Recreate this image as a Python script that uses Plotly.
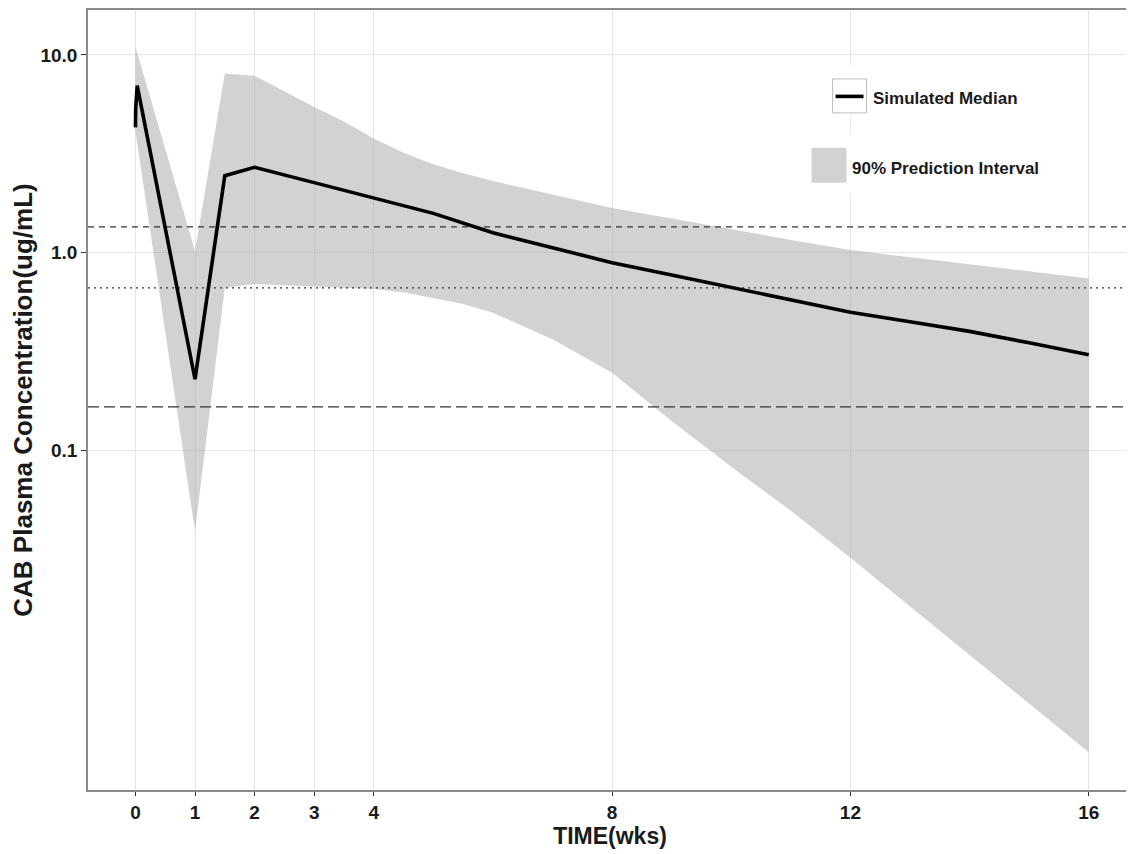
import plotly.graph_objects as go

# ---------------- data ----------------
median_time = [0, 0.005, 0.03, 1, 1.5, 2, 3, 4, 5, 6, 7, 8, 9, 10, 11, 12, 13, 14, 15, 16]
median_conc = [4.3, 5.4, 7.0, 0.229, 2.45, 2.70, 2.26, 1.88, 1.58, 1.26, 1.06, 0.89,
               0.77, 0.665, 0.58, 0.50, 0.447, 0.40, 0.35, 0.305]

band_time = [0, 1, 1.5, 2, 3, 3.5, 4, 4.5, 5, 5.5, 6, 7, 8, 9, 10, 11, 12, 13, 14, 15, 16]
band_upper = [11.0, 1.02, 8.05, 7.85, 5.45, 4.6, 3.78, 3.2, 2.8, 2.52, 2.30, 1.97, 1.68,
              1.49, 1.31, 1.16, 1.03, 0.947, 0.87, 0.804, 0.74]
band_lower = [4.1, 0.039, 0.665, 0.695, 0.675, 0.665, 0.655, 0.63, 0.59, 0.55, 0.497, 0.365,
              0.247, 0.141, 0.0827, 0.0496, 0.0287, 0.0163, 0.00925, 0.00526, 0.00298]

ref_values = [1.35, 0.664, 0.166]
ref_dashes = ["6px,5px", "2px,4px", "11px,5px"]

x_ticks = [0, 1, 2, 3, 4, 8, 12, 16]
y_ticks = [0.1, 1.0, 10.0]
y_ticklabels = ["0.1", "1.0", "10.0"]

x_title = "TIME(wks)"
y_title = "CAB Plasma Concentration(ug/mL)"
legend_labels = ["Simulated Median", "90% Prediction Interval"]

# ---------------- layout constants ----------------
# the page body has an 8px margin, so the figure is sized to end at the window edge
OFF = 8
W, H = 1134 - OFF, 854 - OFF
P_LEFT, P_TOP, P_BOTTOM, P_RIGHT = 88, 9, 790, 1134   # plot area in window pixels
ML, MT = P_LEFT - OFF, P_TOP - OFF
MB = H - (P_BOTTOM - OFF)
MR = W - (P_RIGHT - OFF)
X_RANGE = [-0.796, 16.726]
Y_RANGE = [-2.717, 1.227]
FONT = "Liberation Sans, Arial, Helvetica, sans-serif"
BAND = "rgba(165,165,165,0.5)"
TXT = "#1a1a1a"

pw = P_RIGHT - P_LEFT
ph = P_BOTTOM - P_TOP


def px2paper(px, py):
    return (px - P_LEFT) / pw, (P_BOTTOM - py) / ph


fig = go.Figure()

# prediction interval band
fig.add_trace(go.Scatter(
    x=band_time + band_time[::-1],
    y=band_upper + band_lower[::-1],
    fill="toself", fillcolor=BAND, mode="lines",
    line=dict(width=0, color=BAND), hoverinfo="skip", showlegend=False,
))

# reference lines
for v, d in zip(ref_values, ref_dashes):
    fig.add_trace(go.Scatter(
        x=X_RANGE, y=[v, v], mode="lines",
        line=dict(color="#333333", width=1.3, dash=d),
        hoverinfo="skip", showlegend=False,
    ))

# median
fig.add_trace(go.Scatter(
    x=median_time, y=median_conc, mode="lines",
    line=dict(color="black", width=3.6),
    showlegend=False, name=legend_labels[0],
))

# ---------------- custom legend ----------------
shapes = []
annotations = []

for (x0, y0, x1, y1) in [(828, 64, 1030, 116), (806, 133, 1050, 193)]:
    a0, b1 = px2paper(x0, y0)
    a1, b0 = px2paper(x1, y1)
    shapes.append(dict(type="rect", xref="paper", yref="paper", x0=a0, x1=a1, y0=b0, y1=b1,
                       fillcolor="white", line=dict(width=0), layer="above"))
a0, b1 = px2paper(834, 78)
a1, b0 = px2paper(868, 112)
shapes.append(dict(type="rect", xref="paper", yref="paper", x0=a0, x1=a1, y0=b0, y1=b1,
                   fillcolor="white", line=dict(width=1, color="#bdbdbd"), layer="above"))
a0, bm = px2paper(837, 95.5)
a1, _ = px2paper(865, 95.5)
shapes.append(dict(type="line", xref="paper", yref="paper", x0=a0, x1=a1, y0=bm, y1=bm,
                   line=dict(width=3.6, color="black"), layer="above"))
a0, b1 = px2paper(813, 147)
a1, b0 = px2paper(848, 182)
shapes.append(dict(type="rect", xref="paper", yref="paper", x0=a0, x1=a1, y0=b0, y1=b1,
                   fillcolor="#d2d2d2", line=dict(width=0), layer="above"))

for label, (tx, ty) in zip(legend_labels, [(873, 97.5), (851, 167.5)]):
    ax_, ay_ = px2paper(tx, ty)
    annotations.append(dict(text=label, xref="paper", yref="paper", x=ax_, y=ay_,
                            xanchor="left", yanchor="middle", showarrow=False,
                            font=dict(family=FONT, size=17, color=TXT, weight="bold")))

fig.update_layout(
    width=W, height=H,
    margin=dict(l=ML, r=MR, t=MT, b=MB, pad=0),
    paper_bgcolor="white", plot_bgcolor="white",
    font=dict(family=FONT, size=19, color=TXT, weight="bold"),
    shapes=shapes, annotations=annotations,
    showlegend=False,
)

fig.update_xaxes(
    range=X_RANGE, tickvals=x_ticks, ticktext=[str(t) for t in x_ticks],
    showgrid=True, gridcolor="#e6e6e6", gridwidth=1.3, zeroline=False,
    showline=True, linecolor="#8a8a8a", linewidth=1.5, mirror=True,
    ticks="outside", ticklen=4, tickwidth=1.3, tickcolor="#333333",
    tickfont=dict(family=FONT, size=19, color=TXT, weight="bold"),
    title=dict(text=x_title, standoff=0,
               font=dict(family=FONT, size=23, color=TXT, weight="bold")),
)
fig.update_yaxes(
    type="log", range=Y_RANGE, tickvals=y_ticks, ticktext=y_ticklabels,
    showgrid=True, gridcolor="#e6e6e6", gridwidth=1.3, zeroline=False,
    showline=True, linecolor="#8a8a8a", linewidth=1.5, mirror=True,
    ticks="outside", ticklen=5, tickwidth=1.3, tickcolor="#333333",
    tickfont=dict(family=FONT, size=19, color=TXT, weight="bold"),
    title=dict(text=y_title, standoff=5,
               font=dict(family=FONT, size=26, color=TXT, weight="bold")),
)

fig.write_html("out.html")
